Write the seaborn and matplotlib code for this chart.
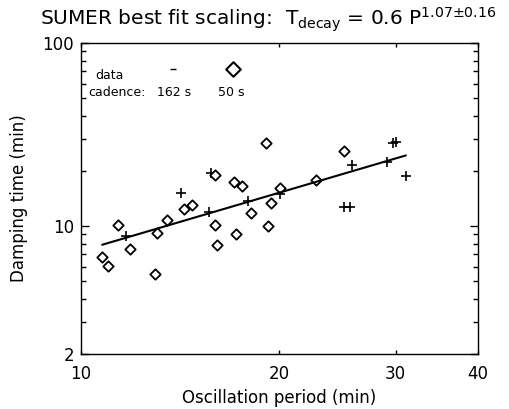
import matplotlib
matplotlib.use('Agg')
import matplotlib.pyplot as plt
import seaborn as sns

# 162 s cadence (plus signs)
period_162 = [11.72, 14.17, 15.64, 15.73, 17.91, 20.04, 25.75, 25.09, 25.59, 29.1, 29.72, 30.06, 31.13]
damping_162 = [8.78, 15.09, 11.88, 19.41, 13.75, 14.90, 21.54, 12.65, 12.65, 22.37, 28.42, 28.89, 18.76]

# 50 s cadence (diamonds)
period_50 = [10.77, 11.0, 11.38, 11.85, 12.96, 13.05, 13.49, 14.35, 14.75, 15.95, 15.95,
             16.07, 17.05, 17.57, 17.19, 18.09, 19.24, 19.42, 19.09, 20.04, 22.71, 25.04]
damping_50 = [6.75, 6.07, 10.13, 7.51, 5.49, 9.19, 10.82, 12.34, 12.97, 19.0, 10.16,
              7.84, 17.33, 16.54, 9.08, 11.78, 10.0, 13.31, 28.42, 16.07, 17.77, 25.6]

# best fit line end points
fit_period = [10.77, 31.1]
fit_damping = [7.9, 24.3]

x_ticks = [10, 20, 30, 40]
y_ticks = [2, 10, 100]

sns.set_style('ticks')
plt.rcParams['font.family'] = ['DejaVu Sans']
plt.rcParams['mathtext.fontset'] = 'dejavusans'
for key in ['text.color', 'axes.labelcolor', 'xtick.color', 'ytick.color', 'axes.edgecolor']:
    plt.rcParams[key] = 'black'

fig = plt.figure(figsize=(5.09, 4.09), dpi=100)
ax = fig.add_axes([0.159, 0.1345, 0.78, 0.7605])

sns.lineplot(x=fit_period, y=fit_damping, color='black', linewidth=1.5, ax=ax)
sns.scatterplot(x=period_162, y=damping_162, marker='+', s=55, color='black',
                linewidth=1.2, ax=ax)
sns.scatterplot(x=period_50, y=damping_50, marker='D', s=28, facecolor='white',
                edgecolor='black', linewidth=1.3, ax=ax)

ax.set_xscale('log')
ax.set_yscale('log')
ax.set_xlim(10, 40)
ax.set_ylim(2, 100)

ax.set_xticks(x_ticks)
ax.set_xticklabels([str(t) for t in x_ticks])
ax.set_xticks([], minor=True)
ax.set_yticks(y_ticks)
ax.set_yticklabels([str(t) for t in y_ticks])
ax.set_yticks([3, 4, 5, 6, 7, 8, 9, 20, 30, 40, 50, 60, 70, 80, 90], minor=True)
ax.set_yticklabels([], minor=True)

ax.tick_params(which='both', direction='in', top=True, right=True, labelsize=12, width=1)
ax.tick_params(axis='x', which='major', length=3, pad=8)
ax.tick_params(axis='y', which='major', length=6, pad=5)
ax.tick_params(axis='y', which='minor', length=3.5)
for s in ax.spines.values():
    s.set_linewidth(1)

ax.set_xlabel('Oscillation period (min)', fontsize=12, labelpad=4)
ax.set_ylabel('Damping time (min)', fontsize=12, labelpad=10)

# legend-like annotation
ax.text(0.035, 0.894, 'data', transform=ax.transAxes, fontsize=9, va='center')
ax.text(0.018, 0.842, 'cadence:', transform=ax.transAxes, fontsize=9, va='center')
ax.text(0.234, 0.842, '162 s', transform=ax.transAxes, fontsize=9, va='center', ha='center')
ax.text(0.378, 0.842, '50 s', transform=ax.transAxes, fontsize=9, va='center', ha='center')
ax.scatter([0.2325], [0.915], marker='_', s=20, color='black', linewidth=1, transform=ax.transAxes)
ax.scatter([0.382], [0.916], marker='D', s=55, facecolor='white', edgecolor='black',
           linewidth=1.5, transform=ax.transAxes)

fig.text(0.527, 0.951, r'SUMER best fit scaling:  T$_{\mathrm{decay}}$ = 0.6 P$^{\mathrm{1.07±0.16}}$',
         ha='center', va='center', fontsize=14.5)

fig.savefig('out.png', dpi=100)
